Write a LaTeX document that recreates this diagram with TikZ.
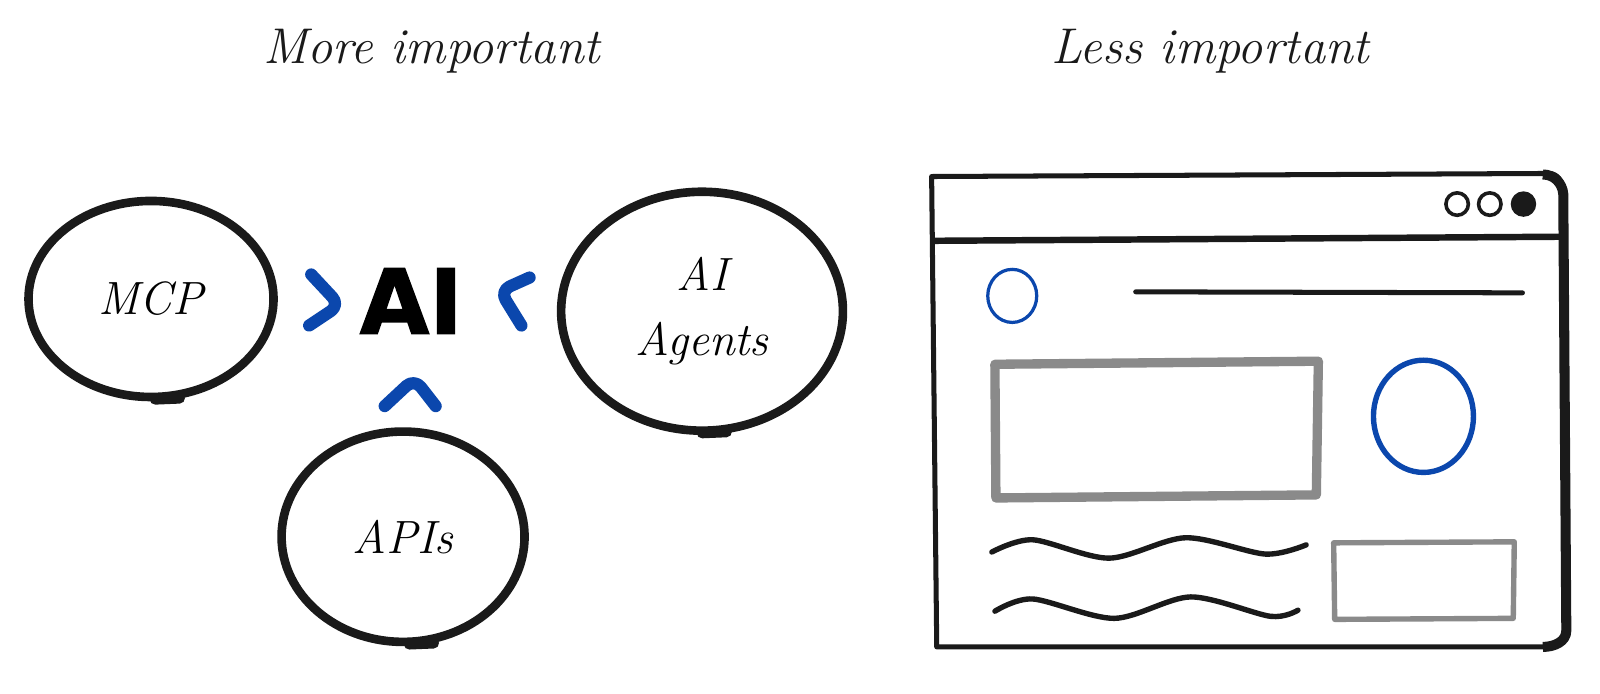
\documentclass[tikz,border=0pt]{standalone}
\usepackage{fontspec}
\newfontfamily\aifont[BoldFeatures={FakeBold=1.6}]{DejaVu Sans}
\usetikzlibrary{calc,positioning,shapes.geometric}
\definecolor{ink}{HTML}{1A1A1A}
\definecolor{blueC}{HTML}{0B47AD}
\definecolor{greyB}{HTML}{8A8A8A}
\tikzset{
  bubble/.style={
    ellipse,
    draw=ink,
    line width=2.4pt,
    font=\itshape\fontsize{13}{16}\selectfont,
    align=center,
    inner sep=0pt
  },
  stub/.style={
    draw=ink,
    line width=3pt,
    line cap=round
  },
  chev/.style={
    draw=blueC,
    line width=3.4pt,
    line cap=round,
    line join=round,
    rounded corners=3pt
  },
  headtext/.style={
    font=\itshape\fontsize{14}{17}\selectfont,
    text=ink
  },
  winline/.style={
    draw=ink,
    line width=1.4pt,
    line cap=round,
    line join=round
  },
  greybox/.style={
    draw=greyB,
    line join=round
  },
  bluering/.style={
    draw=blueC
  },
  wave/.style={
    draw=ink,
    line width=1.5pt,
    line cap=round
  }
}

\begin{document}
\begin{tikzpicture}[x=0.01cm,y=-0.01cm]

% Background
\fill[white] (0,0) rectangle (1568,680);
\useasboundingbox (0,0) rectangle (1568,680);

% Headings
\node[headtext] (more) at (423,50) {More important};
\node[headtext] (less) at (1186,50) {Less important};

% ---------- Left: what feeds the AI ----------
\node[font=\aifont\bfseries\fontsize{25}{28}\selectfont, text=black] (ai) at (403,295) {AI};

\node[bubble, minimum width=2.40cm, minimum height=1.92cm] (mcp) at (148,293) {MCP};
\node[bubble, minimum width=2.76cm, minimum height=2.34cm] (agents) at (688,305) {AI\\[2pt]Agents};
\node[bubble, minimum width=2.38cm, minimum height=2.06cm] (apis) at (395,526) {APIs};

% overlapping pen ends
\draw[stub] ($(mcp.south)+(4,-2)$) -- ++(24,-1);
\draw[stub] ($(apis.south)+(6,-2)$) -- ++(24,-1);
\draw[stub] ($(agents.south)+(0,-2)$) -- ++(24,-1);

% chevrons pointing at AI
\draw[chev] ($(ai)+(-98,-26)$) -- ($(ai)+(-70,4)$) -- ($(ai)+(-100,24)$);
\draw[chev] ($(ai)+(116,-23)$) -- ($(ai)+(87,-10)$) -- ($(ai)+(108,24)$);
\draw[chev] ($(ai)+(-26,103)$) -- ($(ai)+(3,76)$) -- ($(ai)+(24,103)$);

% ---------- Right: browser window ----------
\draw[winline] (913,173) -- (1518,170) to[out=0,in=95] (1532,186)
  -- (1533,620) to[out=-90,in=0] (1518,634) -- (918,634) -- cycle;
\draw[ink, line width=2.8pt, line cap=butt, line join=round]
  (1512,171) to[out=0,in=95] (1532,190) -- (1535,618) to[out=-90,in=0] (1512,634);
\draw[winline, line width=1.8pt] (915,236) -- (1531,232);

% window buttons
\draw[ink, line width=1pt] (1428,200) circle[radius=11];
\draw[ink, line width=1pt] (1460,200) circle[radius=11];
\fill[ink] (1493,200) circle[radius=12.5];

% page content
\draw[bluering, line width=0.9pt] (992,290) ellipse[x radius=24, y radius=26];
\draw[winline] (1113,286) -- (1492,287);
\draw[greybox, line width=2.6pt] (975,357) -- (1292,354) -- (1290,485) -- (976,488) -- cycle;
\draw[bluering, line width=1.5pt] (1395,408) ellipse[x radius=49, y radius=55];

\draw[wave] plot[smooth] coordinates {(972,541) (1012,529) (1087,547) (1162,527) (1240,543) (1280,534)};
\draw[wave] plot[smooth] coordinates {(975,599) (1012,587) (1092,606) (1167,585) (1245,604) (1272,598)};

\draw[greybox, line width=1.5pt] (1307,532) -- (1484,531) -- (1483,606) -- (1308,607) -- cycle;

\end{tikzpicture}
\end{document}
